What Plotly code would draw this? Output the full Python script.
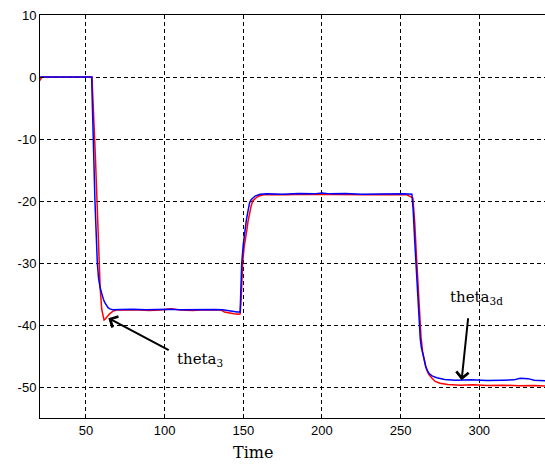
import plotly.graph_objects as go

# theta_3d (desired, blue)
t_d = [20, 53.6, 54, 54.6, 55.7, 57.2, 58, 59, 60, 61, 62, 63, 64, 65.2, 67, 72, 80, 88, 95, 103,
       110, 118, 125, 132, 137, 140, 143, 146, 148, 148.6, 149, 150, 151, 152, 153, 154, 155, 156, 157.5, 160.6,
       165, 175, 185, 195, 200, 205, 215, 225, 235, 245, 252, 257.2, 258, 259, 260, 261, 261.8, 262.5, 263.2, 264,
       265, 266, 267, 268, 270, 273, 278, 285, 295, 305, 315, 322, 326, 331, 335, 342]
v_d = [0, 0, -4, -10, -20, -30, -32.5, -34, -35, -35.8, -36.4, -36.9, -37.2, -37.4, -37.55, -37.5, -37.45, -37.55, -37.5, -37.45,
       -37.55, -37.5, -37.45, -37.5, -37.55, -37.7, -37.85, -37.9, -37.9, -34, -30, -27, -24.8, -23, -21.6, -20.3, -19.8, -19.5, -19.2, -18.9,
       -18.85, -18.9, -18.8, -18.85, -18.7, -18.85, -18.8, -18.9, -18.85, -18.9, -18.85, -18.9, -21.5, -26.5, -31.5, -36.5, -40, -42.2, -43.6, -44.6,
       -45.8, -46.7, -47.3, -47.8, -48.2, -48.5, -48.8, -48.9, -48.85, -48.95, -48.9, -48.85, -48.6, -48.65, -48.9, -49.0]

# theta_3 (actual, red)
t_r = [20, 21, 22, 53.8, 54, 55, 56, 57, 58, 59, 60, 61, 61.5, 62, 63, 65, 67, 69.5, 75, 82,
       90, 97, 104.5, 110, 118, 125, 132, 136, 138, 141, 144, 147, 148, 148.8, 149.6, 150.5, 151.2, 152.2, 153, 153.8,
       155, 156, 157, 158.5, 160, 162.8, 168, 178, 188, 198, 208, 218, 228, 238, 248, 254, 257.8, 259, 260, 261,
       262, 263, 264, 265, 266, 267, 268, 270, 272, 275, 280, 288, 296, 305, 315, 325, 335, 342]
v_r = [-0.8, -0.3, 0, 0, -1.5, -6, -13, -20, -28.5, -34, -37.5, -39, -39.2, -39.1, -38.8, -38.2, -37.8, -37.55, -37.6, -37.55,
       -37.65, -37.6, -37.4, -37.6, -37.65, -37.55, -37.6, -37.6, -37.9, -38.1, -38.2, -38.25, -38.2, -35, -30, -27.5, -26, -24.8, -23.3, -22.1,
       -20.8, -20, -19.7, -19.4, -19.2, -19.0, -18.95, -19.0, -18.9, -18.95, -19.0, -18.95, -19.0, -18.95, -19.0, -19.0, -19.5, -23.5, -28.5, -33.5,
       -38.5, -42, -44.3, -45.8, -46.8, -47.5, -48, -48.6, -49.1, -49.4, -49.6, -49.7, -49.65, -49.75, -49.7, -49.8, -49.75, -49.85]

x_ticks = [50, 100, 150, 200, 250, 300]
y_ticks = [10, 0, -10, -20, -30, -40, -50]
x_range = [20.76, 341.8]
y_range = [-55, 10]

assert len(t_d) == len(v_d) and len(t_r) == len(v_r)

fig = go.Figure()
fig.add_trace(go.Scatter(x=t_r, y=v_r, mode="lines", line=dict(color="#ff0000", width=1.5), name="theta_3"))
fig.add_trace(go.Scatter(x=t_d, y=v_d, mode="lines", line=dict(color="#0000ff", width=1.5), name="theta_3d"))

grid_common = dict(showgrid=True, gridcolor="black", griddash="4px,3px", gridwidth=1,
                   zeroline=False, showline=True, linecolor="black", linewidth=1,
                   ticks="inside", ticklen=4, tickcolor="black",
                   tickfont=dict(family="Liberation Sans, Arial", size=13, color="black"))

fig.update_xaxes(range=x_range, tickvals=x_ticks, ticktext=[str(v) for v in x_ticks], mirror=True, **grid_common)
fig.update_yaxes(range=y_range, tickvals=y_ticks, ticktext=[str(v) for v in y_ticks], mirror=False, **grid_common)

serif = dict(family="DejaVu Serif", size=15, color="black")
annotations = [
    dict(x=64.2, y=-38.9, ax=104.5, ay=-44.3, xref="x", yref="y", axref="x", ayref="y",
         text=" ", showarrow=True, arrowhead=4, arrowsize=1.2, arrowwidth=2, arrowcolor="black", standoff=0),
    dict(x=288.8, y=-48.9, ax=293.6, ay=-37.3, xref="x", yref="y", axref="x", ayref="y",
         text=" ", showarrow=True, arrowhead=4, arrowsize=1.2, arrowwidth=2, arrowcolor="black", standoff=0),
    dict(x=106.6, y=-45.6, xref="x", yref="y", text="theta<sub>3</sub>", showarrow=False,
         xanchor="left", yanchor="middle", font=serif),
    dict(x=280.1, y=-35.6, xref="x", yref="y", text="theta<sub>3d</sub>", showarrow=False,
         xanchor="left", yanchor="middle", font=serif),
    dict(x=0.4208, y=-0.0868, xref="paper", yref="paper", text="Time", showarrow=False,
         xanchor="center", yanchor="middle", font=dict(family="DejaVu Serif", size=16, color="black")),
]

fig.update_layout(
    width=545, height=465,
    margin=dict(l=40, r=0, t=15, b=47),
    paper_bgcolor="white", plot_bgcolor="white",
    showlegend=False,
    annotations=annotations,
)

fig.write_html("out.html", config={"displayModeBar": False},
               post_script="document.body.style.margin='0';document.body.style.overflow='hidden';")
